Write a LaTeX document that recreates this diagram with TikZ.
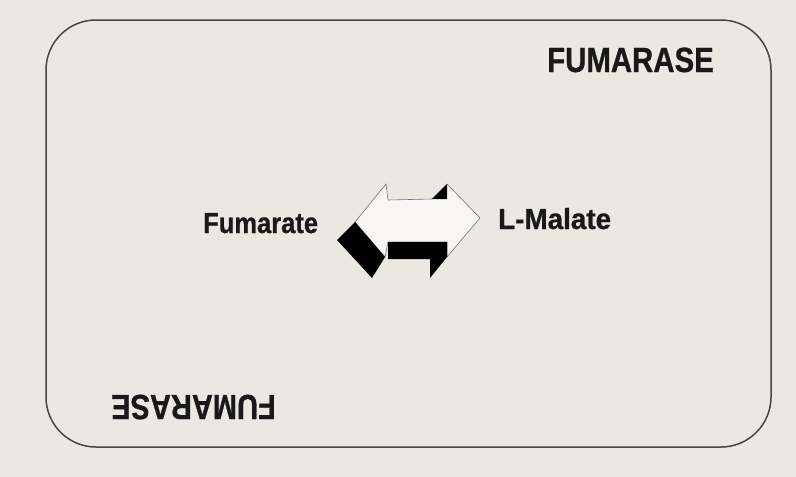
\documentclass[tikz,border=0pt]{standalone}
\usepackage{fontspec}
\setmainfont{Liberation Sans}[BoldFeatures={FakeBold=0.8}]
\usetikzlibrary{positioning}
\definecolor{card}{RGB}{234,232,225}
\definecolor{edge}{RGB}{70,70,70}
\definecolor{face}{RGB}{247,246,242}
\newcommand{\squeeze}[2]{\scalebox{#1}[1]{#2}}

\begin{document}
\begin{tikzpicture}[x=1pt, y=-1pt, inner sep=0pt,
    lbl/.style={font=\fontsize{29}{29}\selectfont\bfseries, text=black!90},
    title/.style={font=\fontsize{35}{35}\selectfont\bfseries, text=black!90}]

    \fill[card] (0,0) rectangle (796,477);
    \useasboundingbox (0,0) rectangle (796,477);
    \draw[edge, line width=1.5pt, rounded corners=50pt] (46,20) rectangle (771,447);

    \node [title, anchor=base west] (fumtop) at (547,72) {\squeeze{0.84}{FUMARASE}};
    \node [title, anchor=base west, rotate=180] (fumbot) at (276,395) {\squeeze{0.83}{FUMARASE}};
    \node [lbl, anchor=base west] (fum) at (203,233) {\squeeze{0.88}{Fumarate}};
    \node [lbl, anchor=base west] (mal) at (498,229) {\squeeze{0.96}{L-Malate}};

    % double arrow
    \draw[black!55, line width=0.6pt, fill=face]
      (355,222) -- (386,184) -- (388,200) -- (432,199) -- (447,184)
      -- (480,218) -- (447,257) -- (447,242) -- (388,242) -- (385,257) -- cycle;
    \fill[black] (355,222) -- (385,257) -- (372,278) -- (337,240) -- cycle;
    \fill[black] (388,242) -- (447,242) -- (447,257) -- (430,278)
      -- (430,259) -- (388,259) -- cycle;
    \fill[black] (432,199) -- (447,184) -- (447,199) -- cycle;
\end{tikzpicture}
\end{document}
